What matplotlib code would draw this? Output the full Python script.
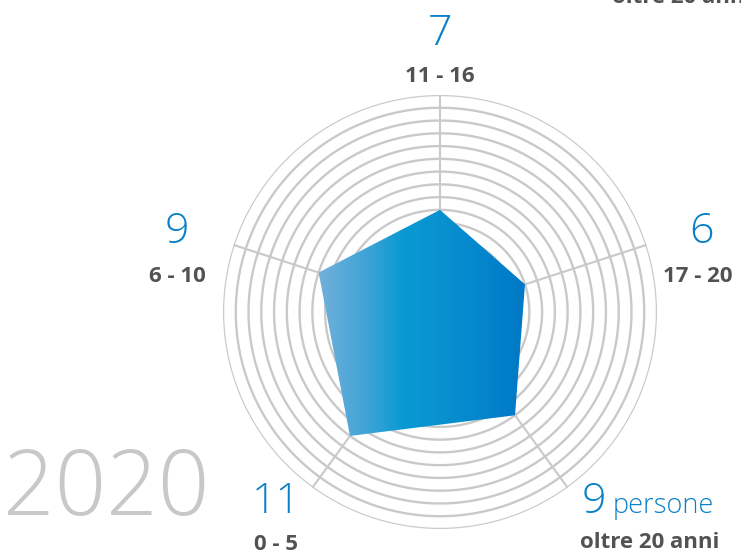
import numpy as np
import matplotlib
matplotlib.use("Agg")
import matplotlib.pyplot as plt
from matplotlib.colors import LinearSegmentedColormap

# ---- data ----
categories = ["11 - 16", "17 - 20", "oltre 20 anni", "0 - 5", "6 - 10"]
values = [7, 6, 9, 11, 9]
ring_values = list(range(0, 17))
year = "2020"
unit = "persone"

W, H = 741, 556
fig = plt.figure(figsize=(W / 100, H / 100), dpi=100)
fig.patch.set_facecolor("white")

FONT = ["Open Sans", "DejaVu Sans"]
BLUE = "#0a80c8"
DARK = "#525252"
GRID = "#c9c9c9"

cx, cy, R = 440, 312, 217
ax = fig.add_axes([(cx - R) / W, (H - cy - R) / H, 2 * R / W, 2 * R / H], projection="polar")
ax.set_theta_zero_location("N")
ax.set_theta_direction(-1)
ax.set_ylim(-1, ring_values[-1])
ax.grid(False)
ax.set_xticks([])
ax.set_yticks([])
ax.spines["polar"].set_visible(False)
ax.patch.set_alpha(0)

n = len(categories)
angles = np.arange(n) * 2 * np.pi / n

# rings
th = np.linspace(0, 2 * np.pi, 721)
for rv in ring_values:
    ax.plot(th, np.full_like(th, rv), color=GRID, lw=1.7, zorder=1, solid_capstyle="butt")
# spokes
for a in angles:
    ax.plot([a, a], [-1, ring_values[-1]], color=GRID, lw=1.5, zorder=1)

# polygon (used as clip path for gradient)
a_closed = np.r_[angles, angles[0]]
v_closed = np.r_[values, values[0]]
poly = ax.fill(a_closed, v_closed, facecolor="none", edgecolor="none", zorder=2)[0]

# gradient overlay
ax2 = fig.add_axes([0, 0, 1, 1])
ax2.set_xlim(0, W)
ax2.set_ylim(0, H)
ax2.axis("off")
ax2.patch.set_alpha(0)
pts = ax.transData.transform(np.c_[angles, values])
x0, x1 = pts[:, 0].min(), pts[:, 0].max()
y0, y1 = pts[:, 1].min(), pts[:, 1].max()
cmap = LinearSegmentedColormap.from_list(
    "g", [(0.0, "#72b0db"), (0.25, "#3aa3d6"), (0.4, "#0a9ad3"),
          (0.7, "#068bce"), (1.0, "#0078c6")])
grad = np.linspace(0, 1, 256)[None, :]
im = ax2.imshow(grad, cmap=cmap, extent=[x0, x1, y0, y1], aspect="auto",
                interpolation="bilinear", zorder=3)
im.set_clip_path(poly)


def t(x, y, s, **kw):
    fig.text(x / W, 1 - y / H, s, va="baseline", family=FONT, **kw)


num_kw = dict(color=BLUE, fontsize=31, fontweight="light", ha="center")
lab_kw = dict(color=DARK, fontsize=16, fontweight="bold", ha="center")

# label positions (pixel coords of baseline centres)
num_pos = [(440, 45), (701, 243), None, (276, 513), (177, 243)]
lab_pos = [(440, 82), (698, 282), (650, 548), (276, 550), (177, 282)]
for i in range(n):
    if num_pos[i] is not None:
        t(num_pos[i][0], num_pos[i][1], str(values[i]), **num_kw)
    t(lab_pos[i][0], lab_pos[i][1], categories[i], **lab_kw)

# bottom-right value with unit
t(582, 513, str(values[2]), color=BLUE, fontsize=31, fontweight="light", ha="left")
t(613, 513, unit, color=BLUE, fontsize=19.5, fontweight="light", ha="left")

# clipped text at top right
t(612, 3, categories[2], color=DARK, fontsize=16, fontweight="bold", ha="left")

# year
t(106, 515, year, color="#c8c8c8", fontsize=65, fontweight="light", ha="center")

fig.savefig("out.png", dpi=100)
